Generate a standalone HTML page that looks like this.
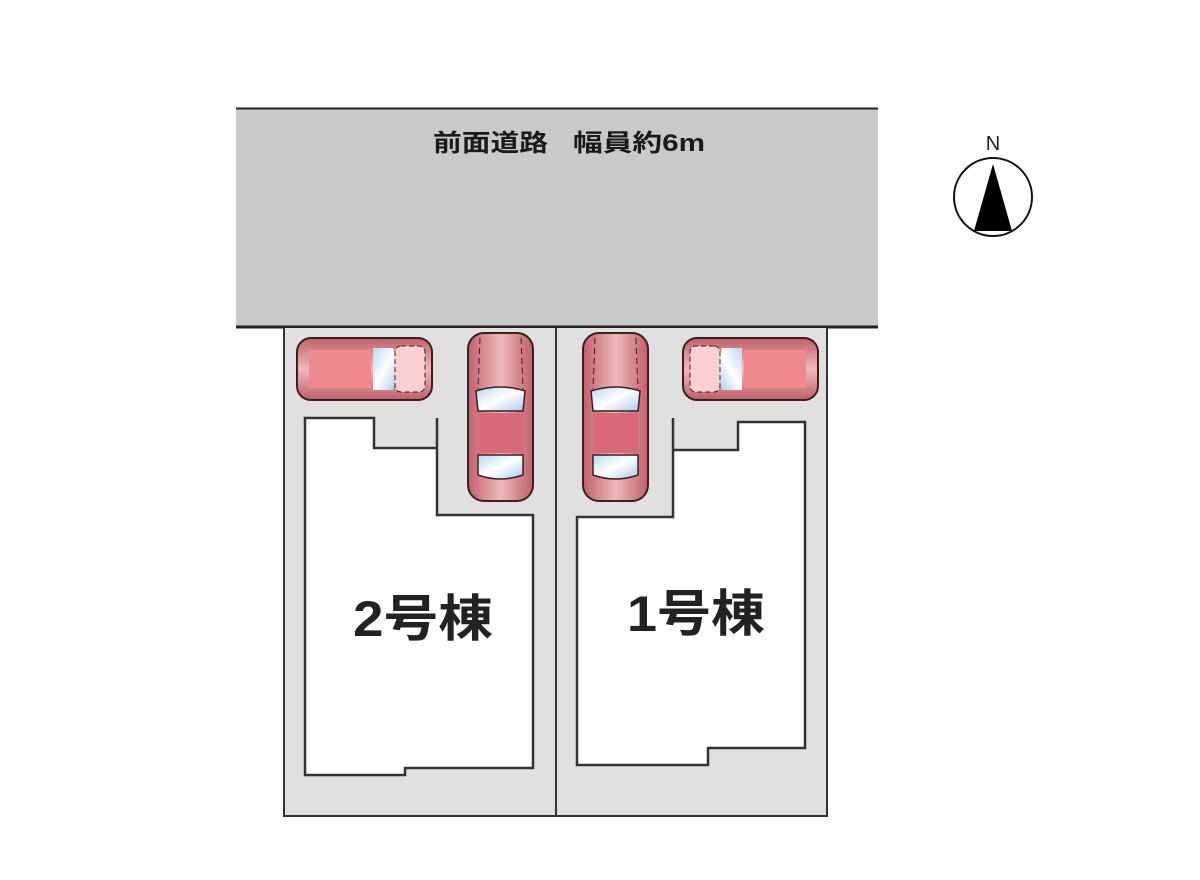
<!DOCTYPE html>
<html><head><meta charset="utf-8"><style>
html,body{margin:0;padding:0;background:#fff;}
svg{display:block;}
</style></head><body>
<svg width="1200" height="880" viewBox="0 0 1200 880" xmlns="http://www.w3.org/2000/svg">
<defs>
<linearGradient id="pk" x1="0" y1="0" x2="1" y2="0">
<stop offset="0" stop-color="#c0606a"/><stop offset="0.5" stop-color="#f0b8bc"/><stop offset="1" stop-color="#c0606a"/>
</linearGradient>
<linearGradient id="pkh" x1="0" y1="0" x2="0" y2="1">
<stop offset="0" stop-color="#c0606a"/><stop offset="0.5" stop-color="#f0b8bc"/><stop offset="1" stop-color="#c0606a"/>
</linearGradient>
<linearGradient id="gl" x1="0" y1="0" x2="1" y2="1">
<stop offset="0" stop-color="#b8d8f0"/><stop offset="0.5" stop-color="#ffffff"/><stop offset="1" stop-color="#a8c8e8"/>
</linearGradient>
<g id="vcar">
<rect x="0" y="0" width="65" height="168" rx="16" fill="url(#pk)" stroke="#3a2020" stroke-width="2"/>
<path d="M8 58 Q32 50 57 58 L55 78 L10 78 Z" fill="url(#gl)" stroke="#3a2020" stroke-width="1.5"/>
<rect x="10" y="80" width="45" height="40" fill="#d86a78"/>
<path d="M10 122 L55 122 L55 142 Q32 150 10 142 Z" fill="url(#gl)" stroke="#3a2020" stroke-width="1.5"/>
<line x1="12" y1="5" x2="10" y2="56" stroke="#3a2020" stroke-dasharray="6 4"/>
<line x1="53" y1="5" x2="55" y2="56" stroke="#3a2020" stroke-dasharray="6 4"/>
</g>
<g id="hcar">
<rect x="0" y="0" width="135" height="62" rx="14" fill="url(#pkh)" stroke="#3a2020" stroke-width="2"/>
<rect x="12" y="12" width="62" height="38" fill="#ee8a8e"/>
<path d="M76 10 L96 10 Q104 31 96 52 L76 52 Z" fill="url(#gl)"/>
<rect x="98" y="8" width="30" height="46" rx="6" fill="#f8d0d2" stroke="#3a2020" stroke-width="1" stroke-dasharray="5 3"/>
</g>
</defs>
<rect x="236" y="108" width="642" height="219" fill="#c9c9c9"/>
<line x1="236" y1="108.5" x2="878" y2="108.5" stroke="#222" stroke-width="2"/>
<line x1="236" y1="327" x2="878" y2="327" stroke="#222" stroke-width="3"/>
<text x="433" y="151" font-family="Liberation Sans, Noto Sans CJK JP, sans-serif" font-size="24" font-weight="bold" fill="#1a1a1a" textLength="115" lengthAdjust="spacingAndGlyphs">前面道路</text>
<text x="573" y="151" font-family="Liberation Sans, Noto Sans CJK JP, sans-serif" font-size="24" font-weight="bold" fill="#1a1a1a" textLength="132" lengthAdjust="spacingAndGlyphs">幅員約6m</text>
<rect x="284" y="328" width="543" height="488" fill="#e0e0e0"/>
<polyline points="284,328 284,816 827,816 827,328" fill="none" stroke="#333" stroke-width="2"/>
<line x1="556" y1="328" x2="556" y2="816" stroke="#333" stroke-width="2"/>
<path d="M305,418 L374,418 L374,448 L437,448 L437,418 L437,515 L533,515 L533,768 L405,768 L405,775 L305,775 Z" fill="#fff" stroke="#333" stroke-width="2.5"/>
<path d="M577,517 L673,517 L673,418 L673,450 L738,450 L738,422 L805,422 L805,748 L708,748 L708,765 L577,765 Z" fill="#fff" stroke="#333" stroke-width="2.5"/>
<text x="353" y="636" font-family="Liberation Sans, Noto Sans CJK JP, sans-serif" font-size="50" font-weight="bold" fill="#222" textLength="140" lengthAdjust="spacingAndGlyphs">2号棟</text>
<text x="627" y="631" font-family="Liberation Sans, Noto Sans CJK JP, sans-serif" font-size="50" font-weight="bold" fill="#222" textLength="138" lengthAdjust="spacingAndGlyphs">1号棟</text>
<use href="#hcar" x="297" y="338"/>
<use href="#vcar" x="468" y="333"/>
<use href="#vcar" x="583" y="333"/>
<use href="#hcar" transform="translate(818,338) scale(-1,1)"/>
<circle cx="993" cy="197" r="39" fill="#fff" stroke="#111" stroke-width="2"/>
<polygon points="993,164 974,231 1012,231" fill="#000"/>
<text x="993" y="150" text-anchor="middle" font-family="Liberation Sans, sans-serif" font-size="20" fill="#222">N</text>
</svg>
</body></html>
